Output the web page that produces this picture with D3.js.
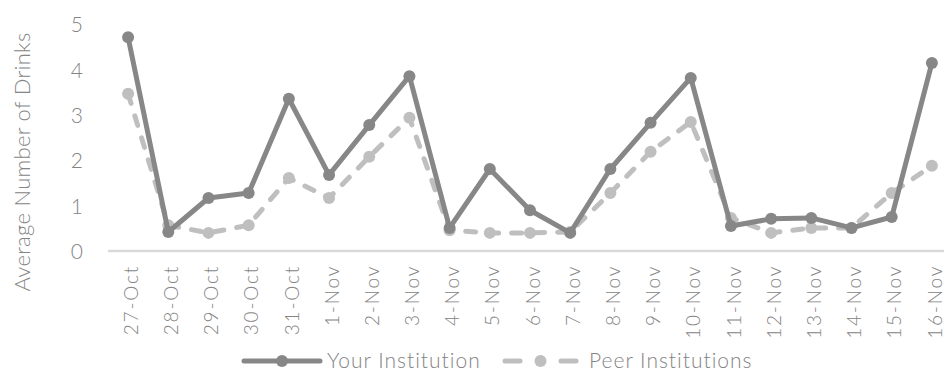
<!DOCTYPE html>
<html>
<head>
<meta charset="utf-8">
<script src="https://cdn.jsdelivr.net/npm/d3@7/dist/d3.min.js"></script>
<style>
  html, body { margin: 0; padding: 0; background: #ffffff; overflow: hidden; }
  svg { display: block; font-family: "Lato Light", Lato, "Open Sans", sans-serif; font-weight: 300; }
</style>
</head>
<body>
<svg id="chart" width="944" height="375"></svg>
<script>
// Daily dates on the x axis
const dates = ["27-Oct", "28-Oct", "29-Oct", "30-Oct", "31-Oct", "1-Nov", "2-Nov", "3-Nov",
  "4-Nov", "5-Nov", "6-Nov", "7-Nov", "8-Nov", "9-Nov", "10-Nov", "11-Nov", "12-Nov",
  "13-Nov", "14-Nov", "15-Nov", "16-Nov"];

// Average number of drinks per day
const yourInstitution = [4.72, 0.42, 1.17, 1.28, 3.36, 1.68, 2.78, 3.86, 0.51, 1.81, 0.90,
  0.40, 1.81, 2.83, 3.82, 0.55, 0.71, 0.73, 0.51, 0.75, 4.15];
const peerInstitutions = [3.47, 0.57, 0.40, 0.57, 1.61, 1.17, 2.08, 2.94, 0.46, 0.40, 0.40,
  0.42, 1.28, 2.19, 2.85, 0.73, 0.40, 0.51, 0.51, 1.28, 1.88];

const yTicks = [0, 1, 2, 3, 4, 5];
const seriesNames = ["Your Institution", "Peer Institutions"];

const svg = d3.select("#chart");

const plot = { left: 108, right: 952, top: 24.5, bottom: 251 };

const x = d3.scaleBand().domain(dates).range([plot.left, plot.right]).padding(0);
const y = d3.scaleLinear().domain([0, 5]).range([plot.bottom, plot.top]);
const cx = d => x(d) + x.bandwidth() / 2;

const textColor = "#848484";
const darkColor = "#878787";
const lightColor = "#bfbfbf";
const fontStack = "'Lato Light', Lato, 'Open Sans', sans-serif";

// Y axis labels (no axis line)
const yAxis = d3.axisLeft(y).tickValues(yTicks).tickSize(0).tickPadding(0).tickFormat(d3.format("d"));
const yG = svg.append("g").attr("transform", "translate(83,0)").call(yAxis);
yG.select(".domain").remove();
yG.selectAll("text")
  .attr("fill", textColor)
  .attr("font-size", 21)
  .attr("font-family", fontStack)
  .attr("font-weight", 300)
  .attr("dy", "0.35em");

// X axis baseline and rotated date labels
const xAxis = d3.axisBottom(x).tickSize(0).tickPadding(0);
const xG = svg.append("g").attr("transform", `translate(0,${plot.bottom})`).call(xAxis);
xG.select(".domain")
  .attr("stroke", "#d9d9d9")
  .attr("stroke-width", 2.5)
  .attr("d", `M${plot.left},0H${plot.right}`);
xG.selectAll(".tick text")
  .attr("fill", textColor)
  .attr("font-size", 19)
  .attr("font-family", fontStack)
  .attr("font-weight", 300)
  .attr("letter-spacing", 1.8)
  .attr("text-anchor", "end")
  .attr("transform", "rotate(-90)")
  .attr("x", -14)
  .attr("y", 3)
  .attr("dy", "0.35em");

// Y axis title
svg.append("text")
  .attr("transform", "translate(30,162) rotate(-90)")
  .attr("text-anchor", "middle")
  .attr("fill", textColor)
  .attr("font-size", 22)
  .attr("font-weight", 300)
  .attr("letter-spacing", 0.3)
  .text("Average Number of Drinks");

const line = d3.line().x((d, i) => cx(dates[i])).y(d => y(d));

// Peer institutions: dashed light series
svg.append("path")
  .datum(peerInstitutions)
  .attr("d", line)
  .attr("fill", "none")
  .attr("stroke", lightColor)
  .attr("stroke-width", 5)
  .attr("stroke-linecap", "round")
  .attr("stroke-linejoin", "round")
  .attr("stroke-dasharray", "10,13");
svg.append("g").selectAll("circle")
  .data(peerInstitutions)
  .join("circle")
  .attr("cx", (d, i) => cx(dates[i]))
  .attr("cy", d => y(d))
  .attr("r", 6)
  .attr("fill", lightColor);

// Your institution: solid dark series
svg.append("path")
  .datum(yourInstitution)
  .attr("d", line)
  .attr("fill", "none")
  .attr("stroke", darkColor)
  .attr("stroke-width", 5)
  .attr("stroke-linejoin", "round")
  .attr("stroke-linecap", "round");
svg.append("g").selectAll("circle")
  .data(yourInstitution)
  .join("circle")
  .attr("cx", (d, i) => cx(dates[i]))
  .attr("cy", d => y(d))
  .attr("r", 6)
  .attr("fill", darkColor);

// Legend
const legendY = 361;
const legend = svg.append("g");
const items = [
  { name: seriesNames[0], color: darkColor, x0: 244, x1: 320, dash: null, textX: 327 },
  { name: seriesNames[1], color: lightColor, x0: 505, x1: 576, dash: "15,41,15", textX: 589 }
];
items.forEach(it => {
  legend.append("line")
    .attr("x1", it.x0).attr("x2", it.x1)
    .attr("y1", legendY).attr("y2", legendY)
    .attr("stroke", it.color)
    .attr("stroke-width", 5)
    .attr("stroke-linecap", "round")
    .attr("stroke-dasharray", it.dash);
  legend.append("circle")
    .attr("cx", (it.x0 + it.x1) / 2)
    .attr("cy", legendY)
    .attr("r", 6)
    .attr("fill", it.color);
  legend.append("text")
    .attr("x", it.textX)
    .attr("y", legendY)
    .attr("dy", "0.35em")
    .attr("fill", textColor)
    .attr("font-size", 21)
    .attr("font-weight", 300)
    .attr("letter-spacing", 1)
    .text(it.name);
});
</script>
</body>
</html>
